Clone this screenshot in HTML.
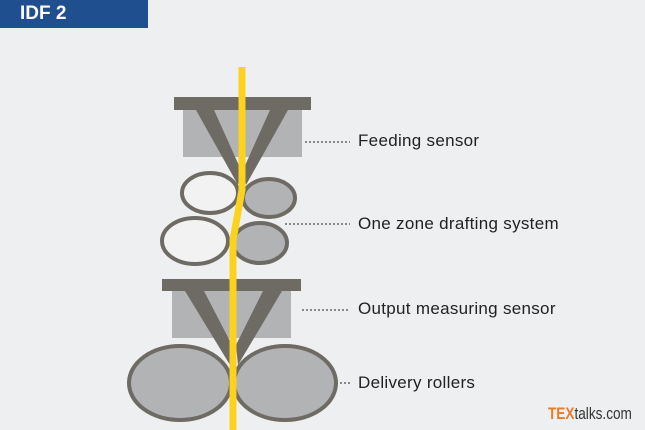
<!DOCTYPE html>
<html><head><style>
body{margin:0;width:645px;height:430px;background:#eeeff0;overflow:hidden;position:relative;font-family:"Liberation Sans",sans-serif}
.hd{position:absolute;left:0;top:0;width:148px;height:28px;background:#1f4f8e;color:#fff;font-weight:bold;font-size:19px;line-height:28px;padding-left:20px;box-sizing:border-box}
.lb{position:absolute;left:358px;font-size:17px;color:#222;letter-spacing:0.3px}
</style></head><body>
<div class="hd">IDF 2</div>
<svg width="645" height="430" style="position:absolute;left:0;top:0">
<g fill="#b1b3b5">
<rect x="183" y="110" width="119" height="47"/>
<rect x="172" y="291" width="119" height="47"/>
</g>
<g fill="#6e6a64">
<rect x="174" y="97" width="137" height="13"/>
<polygon points="196,110 214,110 241,170 238,185"/>
<polygon points="288,110 270,110 243,170 246,185"/>
<rect x="162" y="279" width="139" height="12"/>
<polygon points="185,291 204,291 232,345 230,365"/>
<polygon points="282,291 263,291 236,345 238,365"/>
</g>
<g stroke="#6e6a64" stroke-width="4">
<ellipse cx="210" cy="193" rx="28" ry="20" fill="#f2f2f2"/>
<ellipse cx="269" cy="198" rx="26" ry="19" fill="#b1b3b5"/>
<ellipse cx="195" cy="241" rx="33" ry="23" fill="#f2f2f2"/>
<ellipse cx="260" cy="243" rx="27" ry="20" fill="#b1b3b5"/>
<ellipse cx="180" cy="383" rx="51" ry="37" fill="#b1b3b5"/>
<ellipse cx="285" cy="383" rx="51" ry="37" fill="#b1b3b5"/>
</g>
<path d="M242,67 L242,190 L233,240 L233,430" stroke="#fcd21c" stroke-width="7" fill="none"/>
<g stroke="#888" stroke-width="2" stroke-dasharray="2,2">
<line x1="305" y1="142" x2="350" y2="142"/>
<line x1="285" y1="224" x2="350" y2="224"/>
<line x1="302" y1="310" x2="350" y2="310"/>
<line x1="340" y1="383" x2="350" y2="383"/>
</g>
</svg>
<div class="lb" style="top:131px">Feeding sensor</div>
<div class="lb" style="top:214px">One zone drafting system</div>
<div class="lb" style="top:299px">Output measuring sensor</div>
<div class="lb" style="top:373px">Delivery rollers</div>
<div style="position:absolute;left:548px;top:404px;font-size:17px;transform:scaleX(0.8);transform-origin:left top;white-space:nowrap"><b style="color:#e97c27">TEX</b><span style="color:#333">talks.com</span></div>
</body></html>
